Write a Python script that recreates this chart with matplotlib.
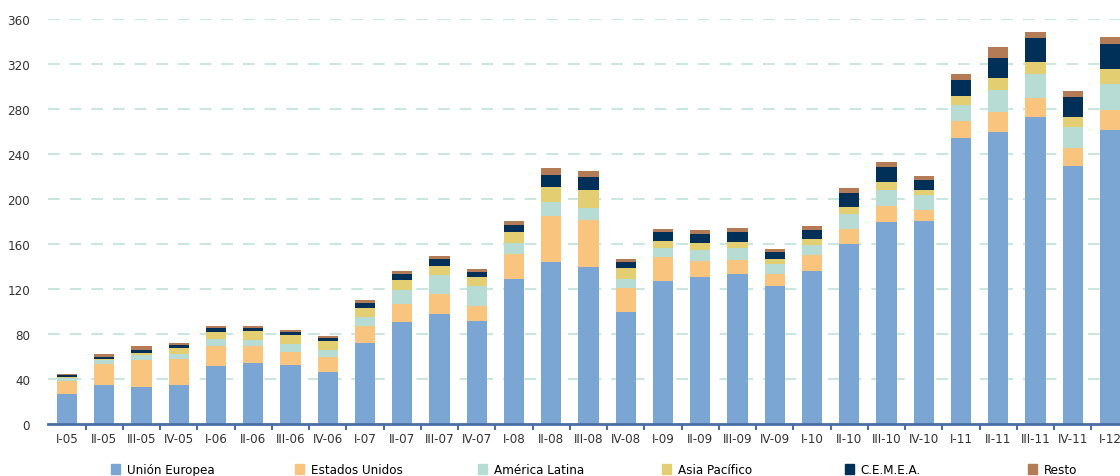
import numpy as np
import matplotlib
matplotlib.use("Agg")
import matplotlib.pyplot as plt
from matplotlib.patches import Patch

plt.rcParams['font.family'] = ['DejaVu Sans']
plt.rcParams['font.stretch'] = 'condensed'

quarters = ['I-05', 'II-05', 'III-05', 'IV-05', 'I-06', 'II-06', 'III-06', 'IV-06',
            'I-07', 'II-07', 'III-07', 'IV-07', 'I-08', 'II-08', 'III-08', 'IV-08',
            'I-09', 'II-09', 'III-09', 'IV-09', 'I-10', 'II-10', 'III-10', 'IV-10',
            'I-11', 'II-11', 'III-11', 'IV-11', 'I-12']

union_europea = [26.7, 34.7, 32.9, 34.7, 51.6, 54.2, 52.4, 46.2,
                 72.0, 90.9, 97.8, 91.8, 128.9, 144.0, 139.6, 99.6,
                 127.1, 130.7, 133.3, 122.7, 136.0, 160.0, 179.6, 180.4,
                 254.2, 259.6, 272.9, 229.3, 261.3]
estados_unidos = [11.5, 18.6, 24.0, 23.3, 17.7, 15.1, 11.6, 13.6,
                  15.1, 15.8, 17.8, 13.1, 22.2, 40.9, 41.7, 21.3,
                  21.6, 14.5, 12.5, 10.6, 14.5, 13.6, 14.2, 9.8,
                  15.4, 17.7, 16.9, 16.0, 17.8]
america_latina = [2.5, 3.6, 4.4, 3.9, 6.6, 5.4, 7.1, 6.0,
                  8.0, 12.4, 17.1, 17.8, 10.1, 12.4, 10.7, 8.3,
                  7.7, 9.5, 10.6, 8.9, 8.6, 13.1, 14.2, 13.4,
                  14.2, 19.6, 21.3, 18.7, 23.1]
asia_pacifico = [0.7, 0.9, 1.8, 5.7, 5.9, 8.0, 8.3, 8.0,
                 8.0, 8.9, 7.7, 8.0, 9.5, 13.4, 16.0, 9.5,
                 6.3, 6.2, 5.4, 4.5, 5.3, 6.2, 7.1, 4.4,
                 7.8, 10.7, 10.7, 8.9, 13.4]
cemea = [1.8, 1.8, 2.7, 2.6, 3.5, 2.6, 2.4, 2.6,
         4.5, 5.3, 6.3, 4.4, 6.2, 10.6, 11.6, 5.3,
         8.0, 8.0, 8.9, 6.2, 8.0, 12.4, 13.3, 8.9,
         14.2, 17.7, 21.3, 17.8, 22.2]
resto = [1.5, 2.6, 3.5, 1.8, 1.8, 1.8, 1.8, 1.8,
         2.6, 2.7, 2.6, 2.7, 3.5, 6.3, 5.3, 2.7,
         2.6, 3.5, 3.5, 2.7, 3.6, 4.5, 4.5, 3.5,
         5.0, 9.8, 5.3, 5.3, 6.2]

series = [
    ('Unión Europea', union_europea, '#7ba6d3'),
    ('Estados Unidos', estados_unidos, '#f9c47e'),
    ('América Latina', america_latina, '#b6dcd4'),
    ('Asia Pacífico', asia_pacifico, '#e3cf72'),
    ('C.E.M.E.A.', cemea, '#003057'),
    ('Resto', resto, '#b47b57'),
]

fig = plt.figure(figsize=(11.2, 4.77), dpi=100)
ax = fig.add_axes([48 / 1120, 52 / 477, 1 - 48 / 1120, 405 / 477])

x = np.arange(len(quarters))
bottom = np.zeros(len(quarters))
for name, vals, col in series:
    ax.bar(x, vals, width=0.54, bottom=bottom, color=col, label=name, zorder=3)
    bottom += np.array(vals)

ax.set_ylim(0, 360)
ax.set_xlim(-0.51, 28.27)
ax.set_yticks(np.arange(0, 361, 40))
ax.yaxis.grid(True, color='#c0e1da', linestyle=(0, (7, 6)), linewidth=1.2, zorder=0)
ax.set_axisbelow(True)

for s in ['top', 'right', 'left']:
    ax.spines[s].set_visible(False)
ax.spines['bottom'].set_color('#4a6fa5')
ax.spines['bottom'].set_linewidth(2)
ax.spines['bottom'].set_zorder(4)

ax.set_xticks(x)
ax.set_xticklabels(quarters)
ax.set_xticks(x[:-1] + 0.5, minor=True)
ax.tick_params(axis='x', which='major', length=0, pad=6, labelsize=9.5, colors='#333333')
ax.tick_params(axis='x', which='minor', length=4, width=1.5, color='#4a6fa5')
ax.tick_params(axis='y', length=0, pad=13, labelsize=9.5, colors='#333333')

# legend entries spaced evenly like the original
leg_x = [111, 295, 478, 662, 845, 1028]
for (name, vals, col), lx in zip(series, leg_x):
    lg = fig.legend(handles=[Patch(color=col, label=name)], loc='center left',
                    bbox_to_anchor=(lx / 1120, 1 - 471 / 477), frameon=False,
                    handlelength=0.7, handleheight=0.7, handletextpad=0.5,
                    borderaxespad=0, borderpad=0, fontsize=9.5)

fig.savefig('out.png', dpi=100)
